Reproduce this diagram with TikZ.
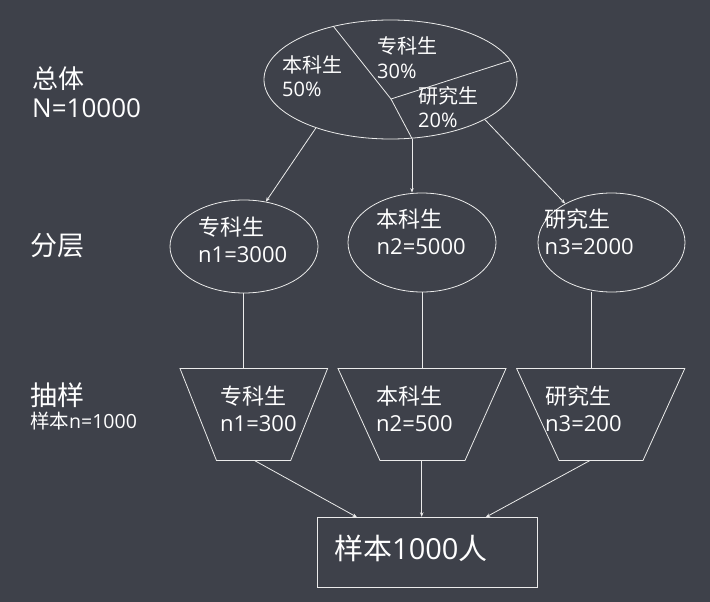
\documentclass[tikz,border=0pt]{standalone}
\usepackage{fontspec}
\setmainfont{Open Sans}
\newfontfamily\cjk{Noto Sans CJK SC}
\usetikzlibrary{arrows.meta,shapes.geometric}
\definecolor{bg}{RGB}{62,65,74}
\definecolor{ink}{RGB}{235,235,235}
\newcommand{\fs}[2]{\fontsize{#1}{#2}\selectfont}
\begin{document}
\begin{tikzpicture}[x=1pt,y=-1pt,
  line/.style={draw=ink,line width=0.8pt},
  arr/.style={line,-{Stealth[length=4.5pt,width=3.5pt]}},
  oval/.style={ellipse,line,inner sep=0pt},
  lbl/.style={anchor=base west,inner sep=0pt,text=white,align=left},
]
\fill[bg] (0,0) rectangle (710,602);
\useasboundingbox (0,0) rectangle (710,602);

% population ellipse split into three parts
\node[oval,minimum width=253pt,minimum height=119pt] (top) at (390.5,79.5) {};
\coordinate (mid) at (391,99);
\draw[line] (top.137) -- (mid) -- (top.9.6);
\draw[line] (mid) -- (top.290);
\node[lbl,font=\fs{20}{24}] (tA) at (282,96.6) {{\cjk 本科生}\\50\%};
\node[lbl,font=\fs{20}{25}] (tB) at (377,78.6) {{\cjk 专科生}\\30\%};
\node[lbl,font=\fs{20}{24}] (tC) at (418,127.6) {{\cjk 研究生}\\20\%};

% strata
\node[oval,minimum width=148pt,minimum height=93pt] (e1) at (244,246.5) {};
\node[oval,minimum width=148pt,minimum height=99pt] (e2) at (422,242.5) {};
\node[oval,minimum width=147pt,minimum height=99pt] (e3) at (611.5,242.5) {};
\node[lbl,font=\fs{22}{27}] (e1t) at (198,262.4) {{\cjk 专科生}\\n1=3000};
\node[lbl,font=\fs{22}{27}] (e2t) at (376.5,254.4) {{\cjk 本科生}\\n2=5000};
\node[lbl,font=\fs{22}{27}] (e3t) at (544.5,254.4) {{\cjk 研究生}\\n3=2000};

\draw[arr] (top.213.4) -- (e1.64);
\draw[arr] (top.290) -- (top.290 |- e2.north);
\draw[arr] (top.337) -- (e3.140.6);

% samples drawn from each stratum (inverted trapezoids)
\coordinate (t1n) at (243.5,368.5);
\coordinate (t2n) at (422.7,368.5);
\coordinate (t3n) at (591,368.5);
\draw[line] (180,368.5) -- (327.6,368.5) -- (290.7,460.5) -- (216.5,460.5) -- cycle;
\draw[line] (338,368.5) -- (506,368.5) -- (465,460.5) -- (380,460.5) -- cycle;
\draw[line] (516.6,368.5) -- (684.8,368.5) -- (643,460.5) -- (559,460.5) -- cycle;
\coordinate (t1s) at (254.5,460.5);
\coordinate (t2s) at (421.7,460.5);
\coordinate (t3s) at (590,460.5);
\node[lbl,font=\fs{22}{27}] (t1t) at (220,431.4) {{\cjk 专科生}\\n1=300};
\node[lbl,font=\fs{22}{27}] (t2t) at (376,431.4) {{\cjk 本科生}\\n2=500};
\node[lbl,font=\fs{22}{27}] (t3t) at (545,431.4) {{\cjk 研究生}\\n3=200};

\draw[line] (e1.south -| t1n) -- (t1n);
\draw[line] (e2.south -| t2n) -- (t2n);
\draw[line] (e3.south -| t3n) -- (t3n);

% combined sample
\node[draw=ink,line width=0.8pt,minimum width=220pt,minimum height=70pt,inner sep=0pt] (res) at (427.3,552.2) {};
\node[lbl,font=\fs{29}{34}] (rest) at (334,559) {{\cjk 样本}1000{\cjk 人}};
\coordinate (r1) at (357,517.2);
\coordinate (r3) at (485.7,517.2);
\draw[arr] (t1s) -- (r1);
\draw[arr] (t2s) -- (t2s |- res.north);
\draw[arr] (t3s) -- (r3);

% row captions
\node[lbl,font=\fs{26}{29}] (c1) at (32,117.5) {{\cjk 总体}\\N=10000};
\node[lbl,font=\fs{27}{30}] (c2) at (30,255) {\cjk 分层};
\node[lbl,font=\fs{27}{30}] (c3) at (30,405) {\cjk 抽样};
\node[lbl,font=\fs{19.5}{20}] (c4) at (30,428) {{\cjk 样本}n=1000};
\end{tikzpicture}
\end{document}
